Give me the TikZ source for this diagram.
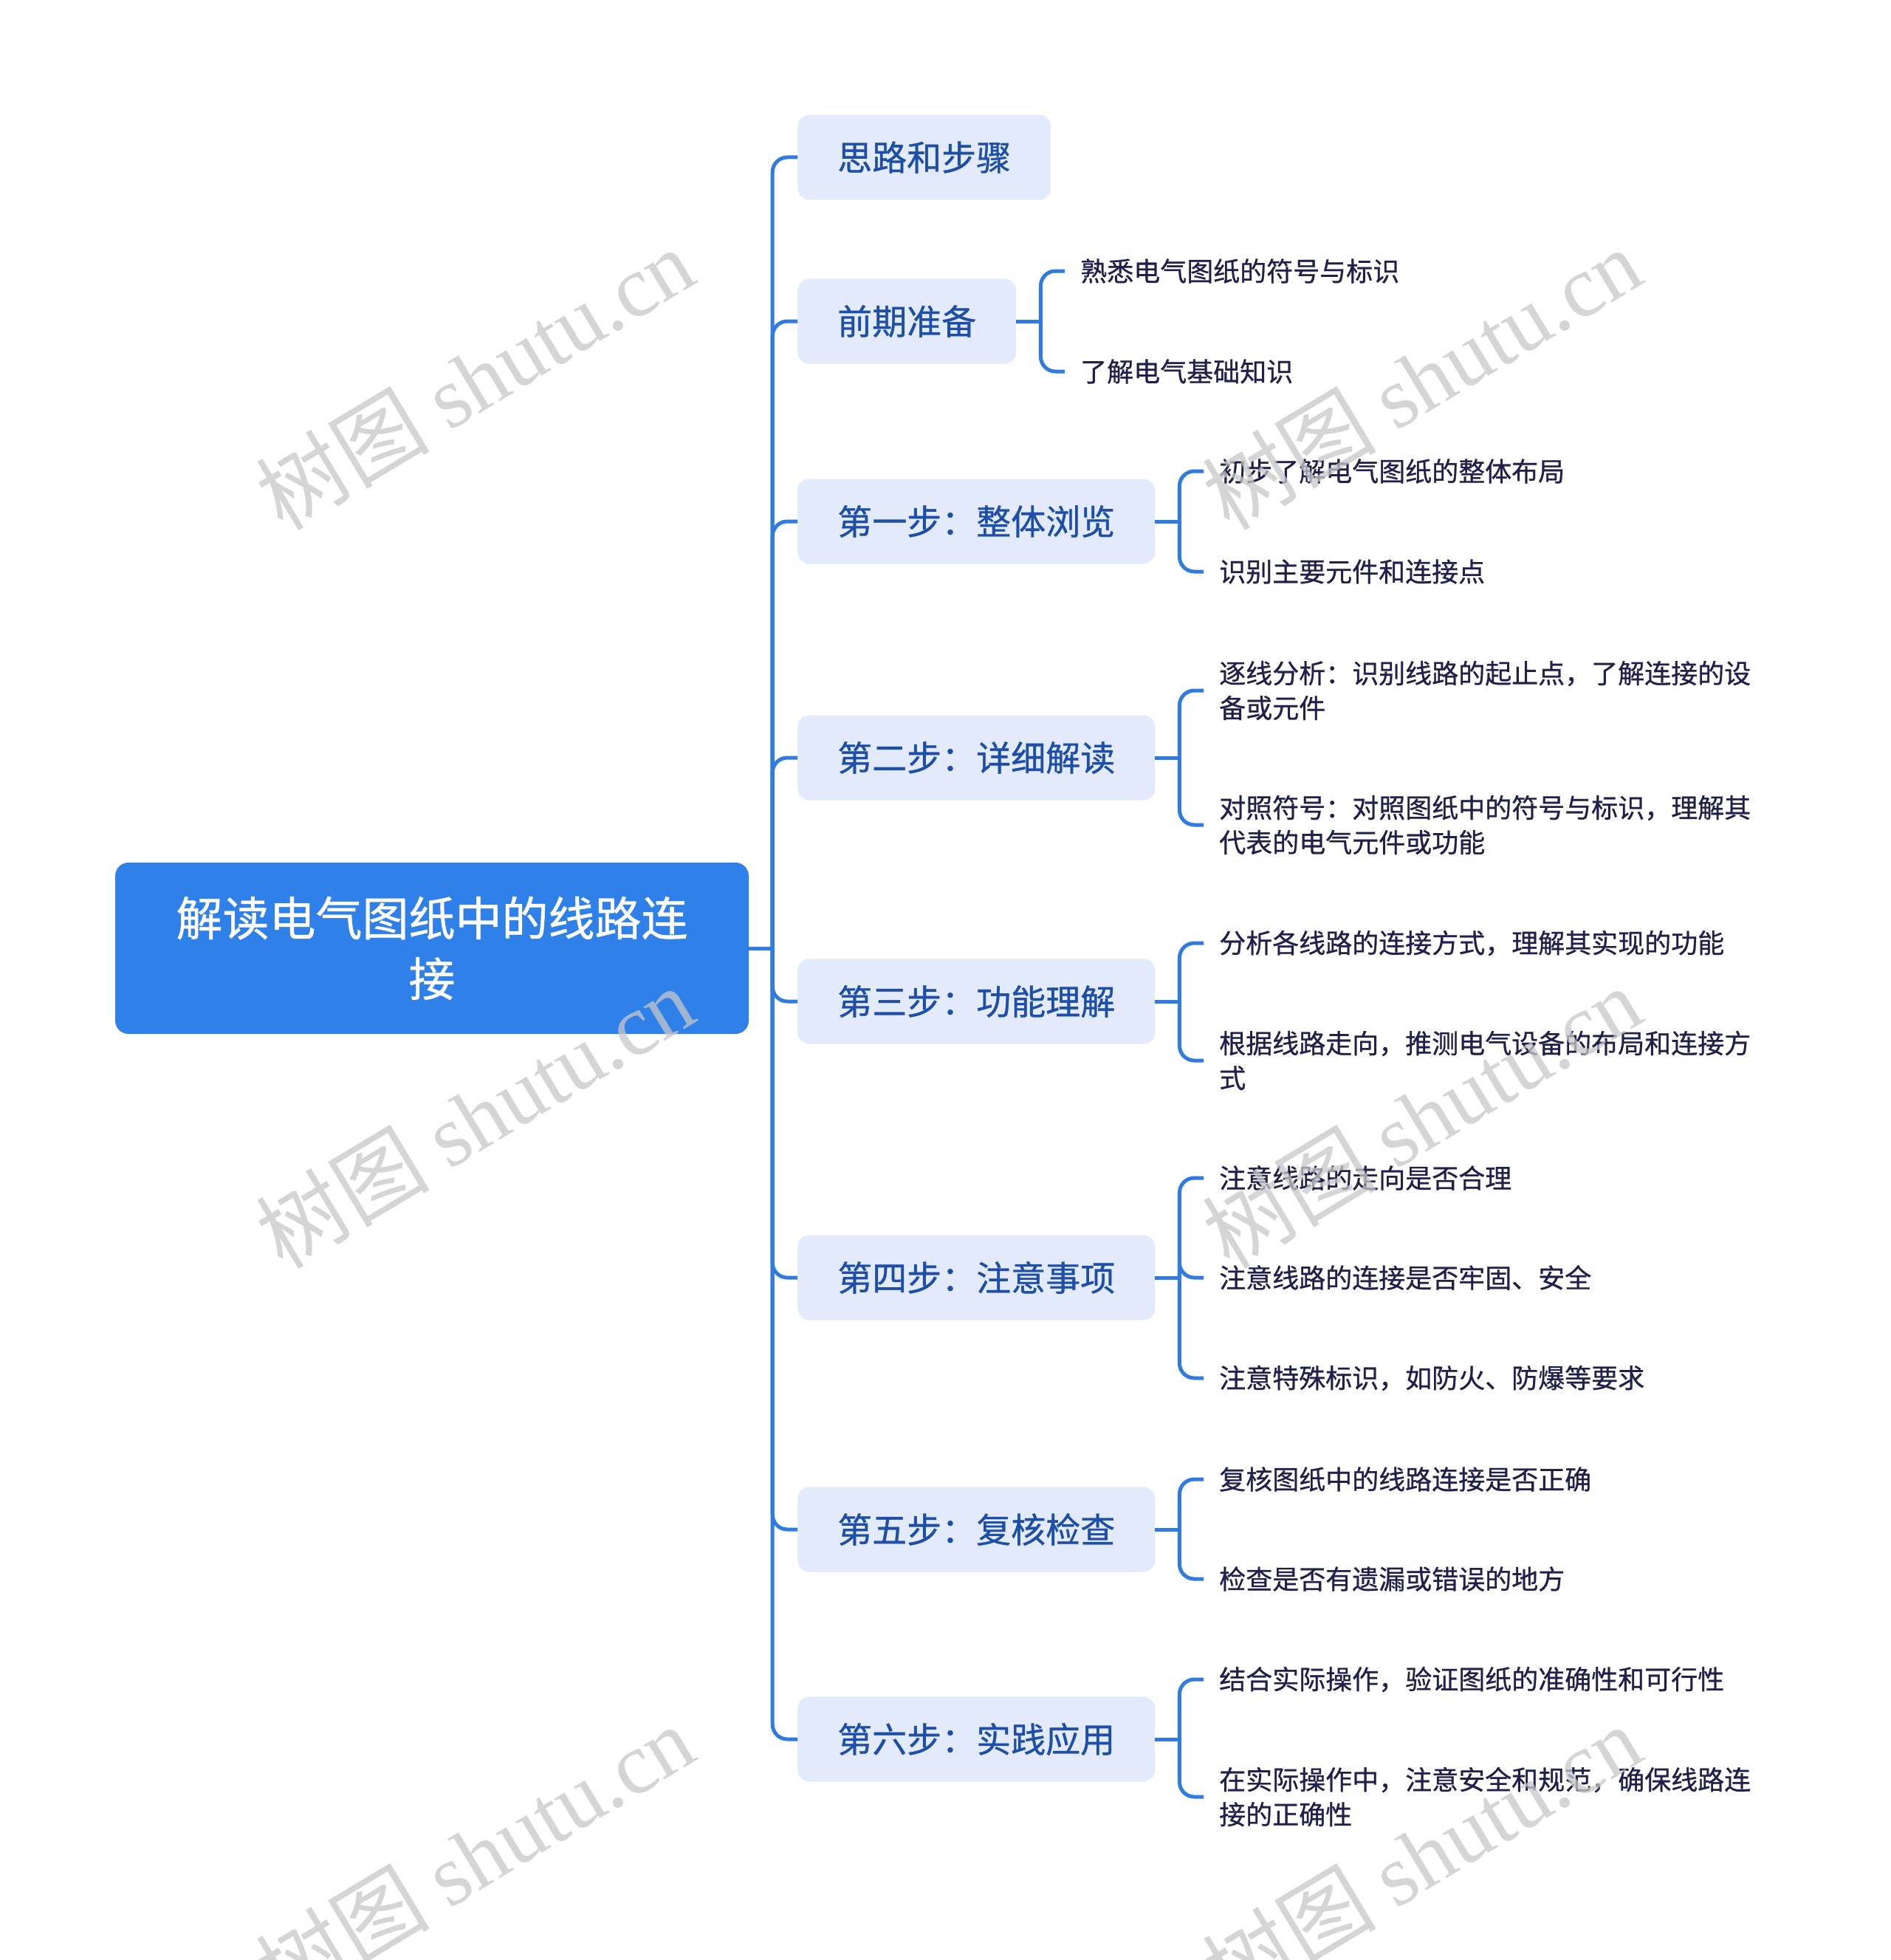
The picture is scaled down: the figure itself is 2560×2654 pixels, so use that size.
\documentclass[tikz,border=0pt]{standalone}
\usepackage{fontspec}
\setmainfont{Noto Sans CJK SC}[FakeBold=0.7]
\newfontfamily\wmcjk{Noto Sans CJK SC}
\newfontfamily\wmlatin{Liberation Serif}
\usetikzlibrary{calc}
\definecolor{rootblue}{HTML}{2F80E8}
\definecolor{linkblue}{HTML}{2F7BE0}
\definecolor{lvfill}{HTML}{E3EAFB}
\definecolor{lvtext}{HTML}{1D4FA8}
\definecolor{leaftext}{HTML}{20204C}
\definecolor{wm}{HTML}{C8C8C8}
\begin{document}
\begin{tikzpicture}[x=1pt,y=-1pt,
 rootbox/.style={fill=rootblue, rounded corners=18pt, text=white, font=\fontsize{63}{82}\selectfont, align=center, minimum width=858pt, minimum height=232pt, inner sep=0pt},
 lvbox/.style={fill=lvfill, rounded corners=16pt, text=lvtext, font=\fontsize{47}{56}\selectfont, inner xsep=54pt, inner ysep=0pt, minimum height=115pt, anchor=west},
 leaf/.style={text=leaftext, font=\fontsize{36}{47}\selectfont, align=left, anchor=west, inner xsep=21pt, inner ysep=0pt},
 conn/.style={draw=linkblue, line width=5pt, rounded corners=20pt},
 wmark/.style={text=wm, opacity=0.75, rotate=31, font=\wmcjk\fontsize{118}{130}\selectfont, inner sep=0pt}
]
\useasboundingbox[fill=white] (0,0) rectangle (2560,2654);

\node[rootbox] (root) at (585,1284) {解读电气图纸中的线路连\\接};

\node[lvbox] (a) at (1080,213) {思路和步骤};
\node[lvbox] (b) at (1080,435) {前期准备};
\node[lvbox] (c) at (1080,706) {第一步：整体浏览};
\node[lvbox] (d) at (1080,1026) {第二步：详细解读};
\node[lvbox] (e) at (1080,1356) {第三步：功能理解};
\node[lvbox] (f) at (1080,1730) {第四步：注意事项};
\node[lvbox] (g) at (1080,2071) {第五步：复核检查};
\node[lvbox] (h) at (1080,2355) {第六步：实践应用};

\coordinate (rj) at ($(root.east)+(32,0)$);
\draw[conn] (root.east) -- (rj);
\foreach \n in {a,b,c,d,e,f,g,h} \draw[conn] (rj) |- (\n.west);

% leaves
\node[leaf] (b1) at (1442,367) {熟悉电气图纸的符号与标识};
\node[leaf] (b2) at (1442,503) {了解电气基础知识};
\node[leaf] (c1) at (1630,638) {初步了解电气图纸的整体布局};
\node[leaf] (c2) at (1630,774) {识别主要元件和连接点};
\node[leaf] (d1) at (1630,935) {逐线分析：识别线路的起止点，了解连接的设\\备或元件};
\node[leaf] (d2) at (1630,1117) {对照符号：对照图纸中的符号与标识，理解其\\代表的电气元件或功能};
\node[leaf] (e1) at (1630,1277) {分析各线路的连接方式，理解其实现的功能};
\node[leaf] (e2) at (1630,1436) {根据线路走向，推测电气设备的布局和连接方\\式};
\node[leaf] (f1) at (1630,1595) {注意线路的走向是否合理};
\node[leaf] (f2) at (1630,1730) {注意线路的连接是否牢固、安全};
\node[leaf] (f3) at (1630,1866) {注意特殊标识，如防火、防爆等要求};
\node[leaf] (g1) at (1630,2003) {复核图纸中的线路连接是否正确};
\node[leaf] (g2) at (1630,2138) {检查是否有遗漏或错误的地方};
\node[leaf] (h1) at (1630,2274) {结合实际操作，验证图纸的准确性和可行性};
\node[leaf] (h2) at (1630,2433) {在实际操作中，注意安全和规范，确保线路连\\接的正确性};

\foreach \p/\kids in {b/{b1,b2}, c/{c1,c2}, d/{d1,d2}, e/{e1,e2}, f/{f1,f2,f3}, g/{g1,g2}, h/{h1,h2}} {
  \coordinate (\p j) at ($(\p.east)+(33,0)$);
  \draw[conn] (\p.east) -- (\p j);
  \foreach \k in \kids \draw[conn] (\p j) |- (\k.west);
}

% watermarks
\node[wmark] (w1) at (643,512) {树图 {\wmlatin shutu.cn}};
\node[wmark] (w2) at (1925,512) {树图 {\wmlatin shutu.cn}};
\node[wmark] (w3) at (643,1512) {树图 {\wmlatin shutu.cn}};
\node[wmark] (w4) at (1925,1512) {树图 {\wmlatin shutu.cn}};
\node[wmark] (w5) at (643,2512) {树图 {\wmlatin shutu.cn}};
\node[wmark] (w6) at (1925,2512) {树图 {\wmlatin shutu.cn}};
\end{tikzpicture}
\end{document}
